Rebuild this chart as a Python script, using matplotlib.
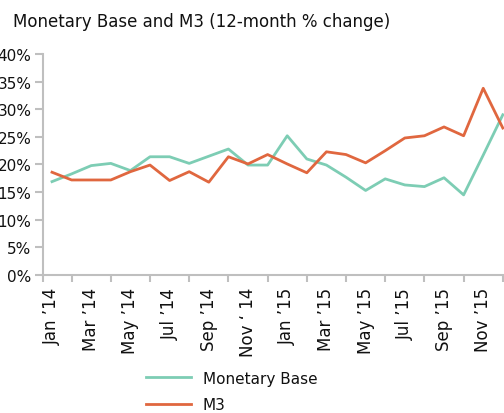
import matplotlib
matplotlib.use("Agg")
import matplotlib.pyplot as plt
from matplotlib.ticker import FixedLocator, FuncFormatter

plt.rcParams['font.family'] = ['DejaVu Sans']

months = ["Jan '14", "Feb '14", "Mar '14", "Apr '14", "May '14", "Jun '14",
          "Jul '14", "Aug '14", "Sep '14", "Oct '14", "Nov '14", "Dec '14",
          "Jan '15", "Feb '15", "Mar '15", "Apr '15", "May '15", "Jun '15",
          "Jul '15", "Aug '15", "Sep '15", "Oct '15", "Nov '15", "Dec '15"]
tick_labels = ["Jan \u201914", "Mar \u201914", "May \u201914", "Jul \u201914",
               "Sep \u201914", "Nov \u2018 14", "Jan \u201915", "Mar \u201915",
               "May \u201915", "Jul \u201915", "Sep \u201915", "Nov \u201915"]
monetary_base = [16.9, 18.3, 19.8, 20.2, 18.9, 21.4, 21.4, 20.2, 21.5, 22.8, 19.9, 19.9,
                 25.2, 21.0, 19.9, 17.7, 15.3, 17.4, 16.3, 16.0, 17.6, 14.5, 21.7, 29.0]
m3 = [18.6, 17.2, 17.2, 17.2, 18.7, 19.9, 17.1, 18.7, 16.8, 21.4, 20.1, 21.8,
      20.1, 18.5, 22.3, 21.8, 20.3, 22.5, 24.8, 25.2, 26.8, 25.2, 33.8, 26.6]
y_ticks = [0, 5, 10, 15, 20, 25, 30, 35, 40]

green = "#7dcdb4"
orange = "#e0673f"
axis_gray = "#bfbfbf"
text_color = "#111111"

fig = plt.figure(figsize=(5.04, 4.14), dpi=100)
ax = fig.add_axes([43/504, 138/414, (504-43)/504, (276-55)/414])

x = list(range(len(months)))
ax.plot(x, monetary_base, color=green, lw=2.0, label="Monetary Base")
ax.plot(x, m3, color=orange, lw=2.0, label="M3")

ax.set_xlim(-0.46, 23.06)
ax.set_ylim(0, 40)
ax.set_yticks(y_ticks)
ax.yaxis.set_major_formatter(FuncFormatter(lambda v, p: f"{int(v)}%"))

ax.set_xticks(list(range(0, 24, 2)))
ax.set_xticklabels(tick_labels, rotation=90)
ax.xaxis.set_minor_locator(FixedLocator([-0.46] + list(range(1, 24, 2))))
ax.tick_params(axis='x', which='major', length=0, pad=8.5, labelsize=12, labelcolor=text_color)
ax.tick_params(axis='x', which='minor', length=5, width=1.5, color=axis_gray, direction='out')
ax.tick_params(axis='y', length=5.8, width=1.5, color=axis_gray, labelsize=11, pad=2.5, labelcolor=text_color)

for s in ['top', 'right']:
    ax.spines[s].set_visible(False)
for s in ['left', 'bottom']:
    ax.spines[s].set_color(axis_gray)
    ax.spines[s].set_linewidth(1.5)

fig.text(13/504, 1 - 27/414, "Monetary Base and M3 (12-month % change)",
         fontsize=12, va='baseline', ha='left', color=text_color)

fig.legend(loc='upper left', bbox_to_anchor=(132/504, 1 - 358/414), frameon=False,
           fontsize=11, handlelength=2.94, handletextpad=0.78, labelspacing=0.75,
           labelcolor=text_color)

fig.savefig("out.png", dpi=100)
